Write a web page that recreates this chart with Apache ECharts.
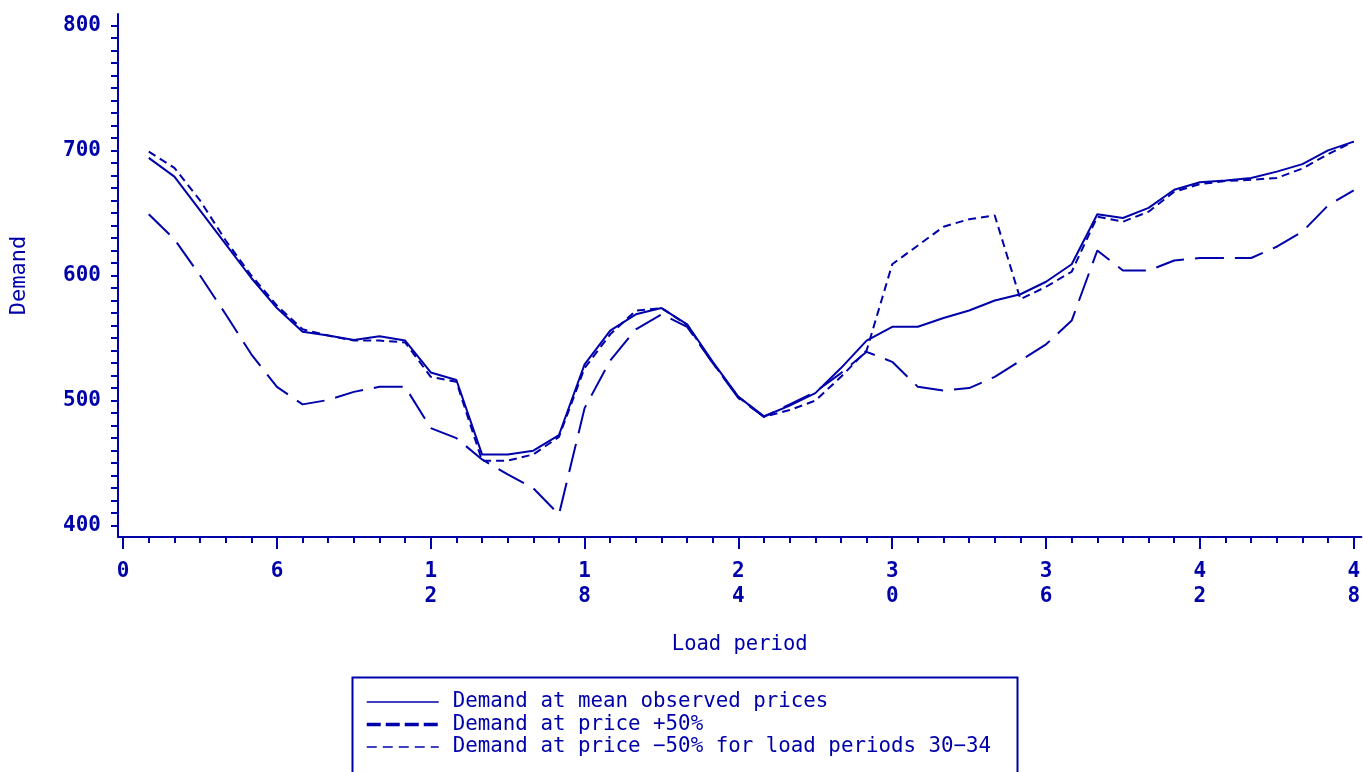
<!DOCTYPE html>
<html>
<head>
<meta charset="utf-8">
<script src="https://cdn.jsdelivr.net/npm/echarts@6/dist/echarts.min.js"></script>
<style>
html,body{margin:0;padding:0;background:#fff;}
#chart{width:1363px;height:772px;}
</style>
</head>
<body>
<div id="chart"></div>
<script>
const periods = [1,2,3,4,5,6,7,8,9,10,11,12,13,14,15,16,17,18,19,20,21,22,23,24,25,26,27,28,29,30,31,32,33,34,35,36,37,38,39,40,41,42,43,44,45,46,47,48];
const demandMean = [694,679,652,625,598,574,555,552,548.5,551.5,548,522.5,516.5,457,457,460,472.5,529,556,569,574,561,531,503,487.5,496,506,526,548,559,559,566,572,580,585,595,609,649,646,654,668.5,674.5,676,678,683,689,700,707];
const demandPlus50 = [649,629,600,569,537,511,497,500.5,507,511,511,478,470,453,441,430,409,494,532,557,569,559,530,502,487,497,507,522,539,531,511,508,510,519,532,545,564,620,604,604,612,614,614,614,623,635,656,668];
const demandMinus50 = [699,686,660,628,600,576,557,552,548,548,546.5,519,515,452,452,457,471,526,553,572,574,560.5,530,503,487,492.5,500,519,540,609,624,639,645,648,581,591,603,647,643,651,667,673,675.5,676.5,678,685.5,697,707];
const xTickValues = [0,6,12,18,24,30,36,42,48];
const xMinorTickValues = [1,2,3,4,5,7,8,9,10,11,13,14,15,16,17,19,20,21,22,23,25,26,27,28,29,31,32,33,34,35,37,38,39,40,41,43,44,45,46,47];
const yTickValues = [400,500,600,700,800];
const yMinorTickValues = [400,410,420,430,440,450,460,470,480,490,500,510,520,530,540,550,560,570,580,590,600,610,620,630,640,650,660,670,680,690,700,710,720,730,740,750,760,770,780,790,800];
const seriesNames = ['Demand at mean observed prices','Demand at price +50%','Demand at price \u221250% for load periods 30\u221234'];

const C = '#0000AA';
const FONT = 'DejaVu Sans Mono';
const pairs = arr => periods.map((p,i)=>[p,arr[i]]);
const noSym = {color:'rgba(0,0,0,0)',borderColor:'rgba(0,0,0,0)',borderWidth:0};

const chart = echarts.init(document.getElementById('chart'), null, {renderer:'canvas'});
chart.setOption({
  animation:false,
  backgroundColor:'#fff',
  textStyle:{fontFamily:FONT,color:C},
  grid:{left:115,right:0,top:14,bottom:235,containLabel:false},
  xAxis:[{
    type:'value',min:-0.2,max:48.3,
    name:'Load period',nameLocation:'middle',nameGap:97,
    nameTextStyle:{fontFamily:FONT,fontSize:20.5,color:C},
    axisLine:{show:true,onZero:false,lineStyle:{color:C,width:2}},
    axisTick:{show:true,customValues:xTickValues,length:12,lineStyle:{color:C,width:2}},
    axisLabel:{customValues:xTickValues,fontFamily:FONT,fontWeight:'bold',fontSize:21,lineHeight:25,color:C,margin:22,verticalAlign:'top',
      formatter:v=>String(v).split('').join('\n')},
    splitLine:{show:false}
  },{
    type:'value',min:-0.2,max:48.3,position:'bottom',
    axisLine:{show:false,onZero:false},
    axisTick:{show:true,customValues:xMinorTickValues,length:6,lineStyle:{color:C,width:2}},
    axisLabel:{show:false},
    splitLine:{show:false}
  }],
  yAxis:{
    type:'value',min:391,max:809,
    name:'Demand',nameLocation:'middle',nameRotate:90,nameGap:88,
    nameTextStyle:{fontFamily:FONT,fontSize:22,color:C},
    axisLine:{show:true,onZero:false,lineStyle:{color:C,width:2}},
    axisTick:{show:true,customValues:yMinorTickValues,length:7,lineStyle:{color:C,width:2}},
    axisLabel:{customValues:yTickValues,fontFamily:FONT,fontWeight:'bold',fontSize:21,color:C,margin:17},
    splitLine:{show:false}
  },
  legend:{
    show:true,orient:'vertical',left:360,top:686,itemWidth:72,itemHeight:14,itemGap:0.5,
    textStyle:{fontFamily:FONT,fontSize:20.8,color:C,lineHeight:22,padding:[0,0,0,9]},
    data:[
      {name:seriesNames[0],itemStyle:noSym,lineStyle:{width:1.5}},
      {name:seriesNames[1],itemStyle:noSym,lineStyle:{width:3.5,type:[14,5]}},
      {name:seriesNames[2],itemStyle:noSym,lineStyle:{width:1.5,type:[10,6]}}
    ]
  },
  graphic:[{
    type:'rect',shape:{x:352.5,y:677.5,width:665,height:120},
    style:{fill:'none',stroke:C,lineWidth:2},silent:true,z:0
  }],
  series:[
    {name:seriesNames[0],type:'line',data:pairs(demandMean),showSymbol:false,symbol:'none',
      lineStyle:{color:C,width:2,type:'solid'},itemStyle:{color:C}},
    {name:seriesNames[1],type:'line',data:pairs(demandPlus50),showSymbol:false,symbol:'none',
      lineStyle:{color:C,width:2,type:[29,11]},itemStyle:{color:C}},
    {name:seriesNames[2],type:'line',data:pairs(demandMinus50),showSymbol:false,symbol:'none',
      lineStyle:{color:C,width:2,type:[8,5]},itemStyle:{color:C}}
  ]
});
</script>
</body>
</html>
